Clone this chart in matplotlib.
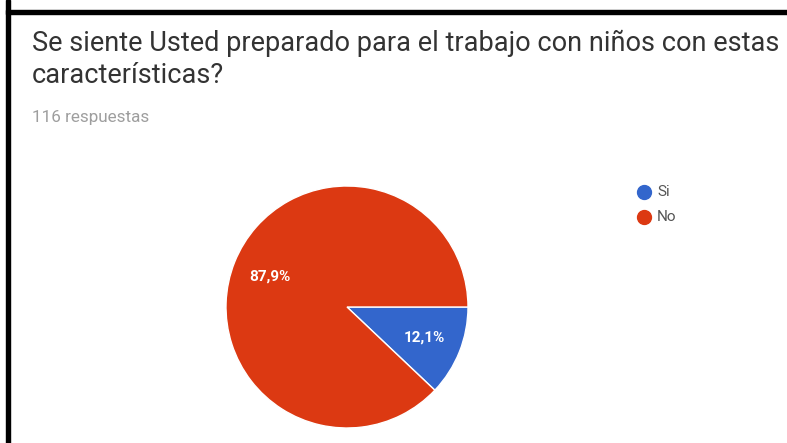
import matplotlib
matplotlib.use('Agg')
import matplotlib.pyplot as plt
from matplotlib.patches import Rectangle

plt.rcParams['font.family'] = ['Roboto', 'DejaVu Sans']

# datos
titulo = 'Se siente Usted preparado para el trabajo con niños con estas\ncaracterísticas?'
subtitulo = '116 respuestas'
categorias = ['Si', 'No']
respuestas = [14, 102]
colores = ['#3366CC', '#DC3912']

W, H = 787, 443
fig = plt.figure(figsize=(W / 100, H / 100), dpi=100)
fig.patch.set_facecolor('white')

def fx(x):
    return x / W

def fy(y):
    return 1 - y / H

# marco negro (solo izquierda y arriba visibles)
fig.patches.append(Rectangle((fx(6), fy(443)), fx(4), 443 / H, transform=fig.transFigure,
                             color='black', zorder=5))
fig.patches.append(Rectangle((fx(6), fy(14)), fx(781), 4 / H, transform=fig.transFigure,
                             color='black', zorder=5))

fig.text(fx(32), fy(30), titulo, fontsize=19.5, color='#333333', va='top', ha='left',
         linespacing=1.22)
fig.text(fx(32), fy(117), subtitulo, fontsize=12.3, color='#9e9e9e', va='center', ha='left')

# pastel
cx, cy, r = 347, 307, 121
ax = fig.add_axes([fx(cx - r), fy(cy + r), 2 * r / W, 2 * r / H])
wedges, texts, autotexts = ax.pie(
    respuestas, colors=colores, startangle=0, counterclock=False,
    autopct=lambda p: f'{p:.1f}%'.replace('.', ','), pctdistance=0.69,
    wedgeprops=dict(edgecolor='white', linewidth=1),
    textprops=dict(color='white', fontsize=11, fontweight='bold'))
ax.set_xlim(-1, 1)
ax.set_ylim(-1, 1)
ax.set_aspect('equal')
ax.axis('off')

# leyenda
for i, (cat, col) in enumerate(zip(categorias, colores)):
    y = 192 + i * 25
    fig.lines.append(plt.Line2D([fx(644)], [fy(y)], marker='o', markersize=10,
                                color=col, transform=fig.transFigure))
    fig.text(fx(657), fy(y), cat, fontsize=11, color='#555555', va='center', ha='left')

fig.savefig('out.png', dpi=100)
